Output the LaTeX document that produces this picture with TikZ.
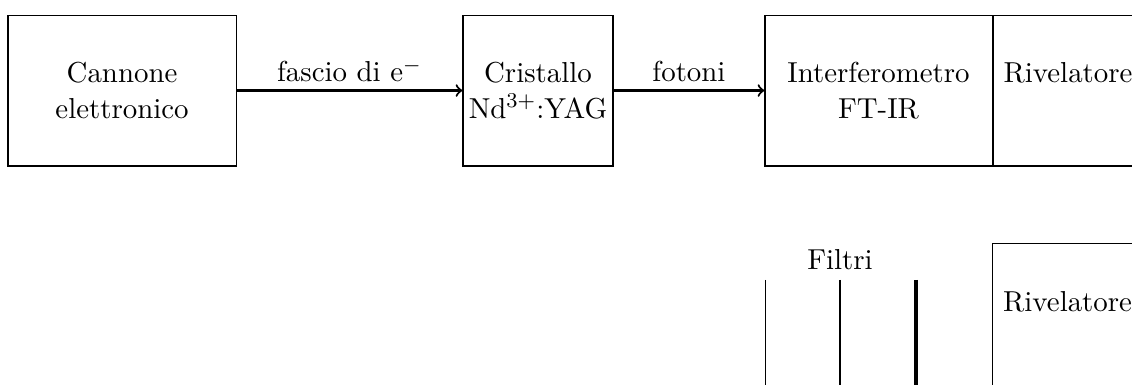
\documentclass[11pt,tikz,border=0pt]{standalone}
\begin{document}
\begin{tikzpicture}[
  box/.style={draw, thin, align=center, minimum height=2.013cm, inner sep=2pt},
  beam/.style={->, thick},
  beamlabel/.style={above, inner sep=2.9pt},
]
\useasboundingbox (0,0) rectangle (15.093,-5.133);
\clip (0,0) rectangle (15.093,-5.133);
\node[box, minimum width=3.04cm] (gun) at (1.627,-1.207) {Cannone\\elettronico};
\node[box, minimum width=2cm] (cry) at (7.173,-1.207) {Cristallo\\Nd$^{3+}$:YAG};
\node[box, minimum width=3.027cm] (ifm) at (11.713,-1.207) {Interferometro\\FT-IR};
\node[box, minimum width=2cm, anchor=west] (detA) at (ifm.east) {Rivelatore\\\mbox{}};
\draw[beam] (gun) -- node[beamlabel] (lbeam) {fascio di e$^-$} (cry);
\draw[beam] (cry) -- node[beamlabel] (lphot) {fotoni} (ifm);
\node[box, minimum width=2cm, anchor=north west] (detB) at (13.227,-3.24) {Rivelatore\\\mbox{}};
\coordinate (f1) at (10.2,-3.733);
\coordinate (f2) at (11.2,-3.733);
\coordinate (f3) at (12.213,-3.733);
\coordinate (f1b) at (10.2,-5.8);
\coordinate (f2b) at (11.2,-5.8);
\coordinate (f3b) at (12.213,-5.8);
\draw[thin] (f1) -- (f1b);
\draw[thick] (f2) -- (f2b);
\draw[very thick] (f3) -- (f3b);
\node[above] (lfil) at (f2) {Filtri};
\end{tikzpicture}
\end{document}
